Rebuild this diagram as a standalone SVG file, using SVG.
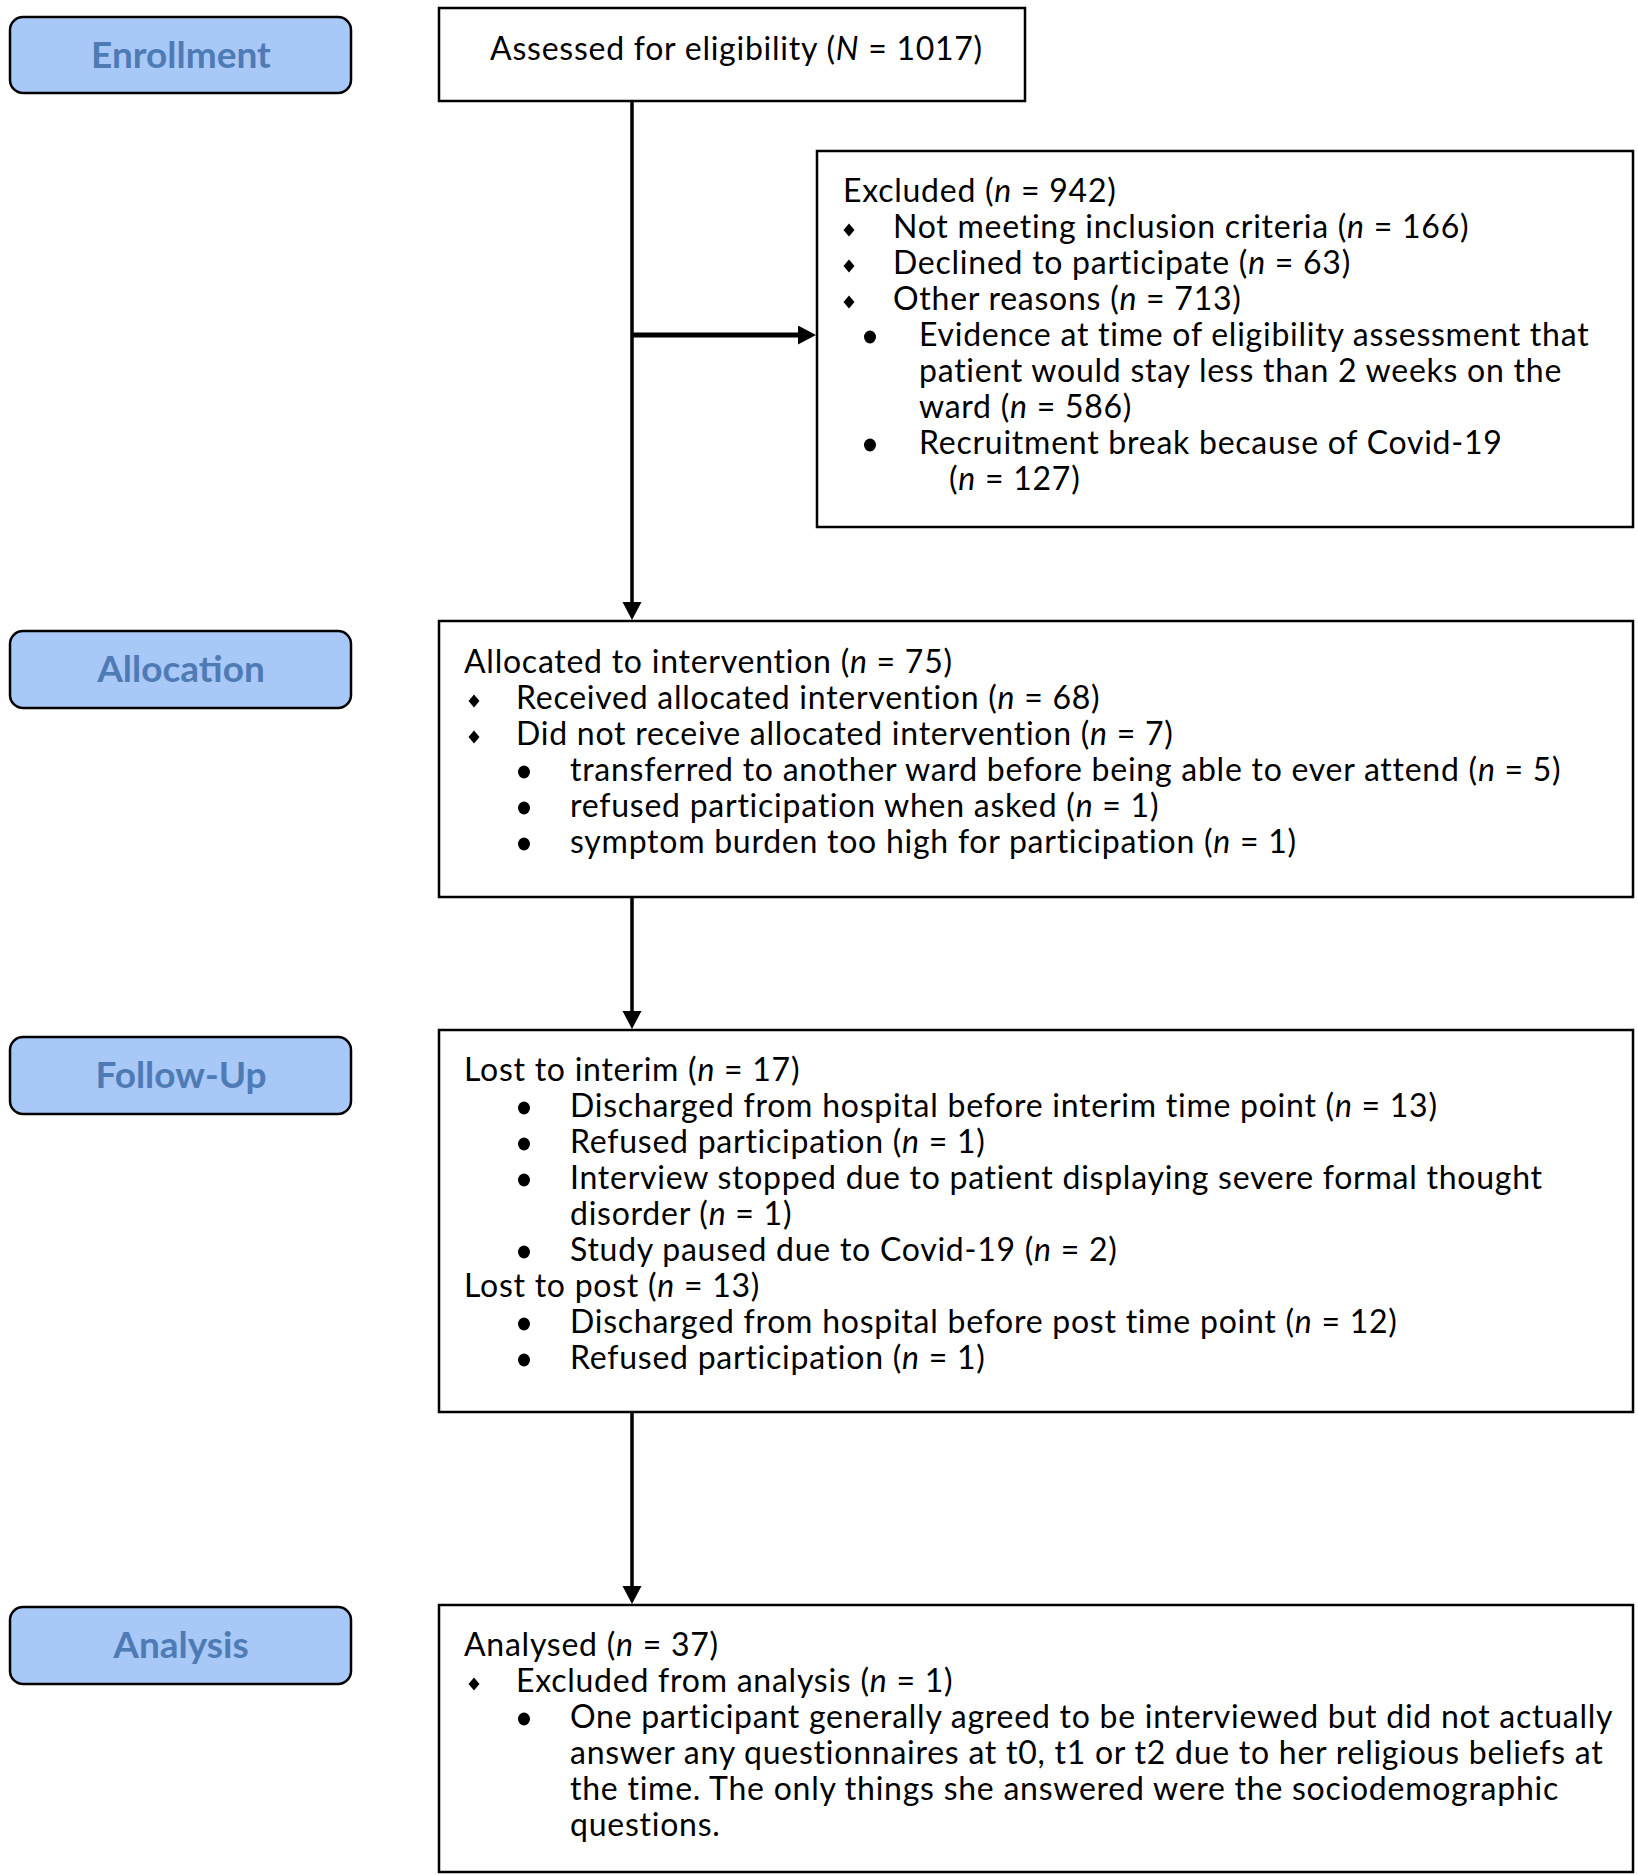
<svg xmlns="http://www.w3.org/2000/svg" width="1638" height="1875" viewBox="0 0 1638 1875">
<style>
.bg{fill:#ffffff}
.box{fill:#ffffff;stroke:#000;stroke-width:2.5}
.lbl{fill:#a8c8f8;stroke:#000;stroke-width:2.5}
.lt{font-family:Lato,"Liberation Sans",sans-serif;font-weight:bold;font-size:37px;fill:#4f7bb5;text-anchor:middle}
.t{font-family:Lato,"Liberation Sans",sans-serif;font-size:32px;letter-spacing:0.75px;fill:#000}
.i{font-style:italic}
.con{stroke:#000;stroke-width:3.5;fill:none}
.con.thick{stroke-width:5}
.d{fill:#000}
</style>
<defs>
<marker id="ah" markerUnits="userSpaceOnUse" markerWidth="20" markerHeight="20" refX="8" refY="9.5" orient="auto">
<path d="M0,0 L18,9.5 L0,19 z" fill="#000"/>
</marker>
<path id="dia" d="M0,-6.5 L5.5,0 L0,6.5 L-5.5,0 z"/>
</defs>
<rect class="bg" x="0" y="0" width="1638" height="1875"/>

<g id="connectors">
<line class="con" x1="632" y1="102" x2="632" y2="610" marker-end="url(#ah)"/>
<line class="con thick" x1="632" y1="335" x2="806" y2="335" marker-end="url(#ah)"/>
<line class="con" x1="632" y1="897" x2="632" y2="1019" marker-end="url(#ah)"/>
<line class="con" x1="632" y1="1412" x2="632" y2="1594" marker-end="url(#ah)"/>
</g>

<g id="label-enrollment">
<rect class="lbl" x="10" y="17" width="341" height="76" rx="13"/>
<text class="lt" x="181" y="68">Enrollment</text>
</g>
<g id="label-allocation">
<rect class="lbl" x="10" y="631" width="341" height="77" rx="13"/>
<text class="lt" x="181" y="682">Allocation</text>
</g>
<g id="label-followup">
<rect class="lbl" x="10" y="1037" width="341" height="77" rx="13"/>
<text class="lt" x="181" y="1088">Follow-Up</text>
</g>
<g id="label-analysis">
<rect class="lbl" x="10" y="1607" width="341" height="77" rx="13"/>
<text class="lt" x="181" y="1658">Analysis</text>
</g>

<g id="assessed">
<rect class="box" x="439" y="8" width="586" height="93"/>
<text class="t" x="490" y="60">Assessed for eligibility (<tspan class="i">N</tspan> = 1017)</text>
</g>

<g id="excluded">
<rect class="box" x="817" y="151" width="816" height="376"/>
<text class="t" x="843" y="202">Excluded (<tspan class="i">n</tspan> = 942)</text>
<use href="#dia" class="d" x="849" y="230"/>
<text class="t" x="893" y="238">Not meeting inclusion criteria (<tspan class="i">n</tspan> = 166)</text>
<use href="#dia" class="d" x="849" y="266"/>
<text class="t" x="893" y="274">Declined to participate (<tspan class="i">n</tspan> = 63)</text>
<use href="#dia" class="d" x="849" y="302"/>
<text class="t" x="893" y="310">Other reasons (<tspan class="i">n</tspan> = 713)</text>
<ellipse class="d" cx="870" cy="337" rx="6" ry="6.5"/>
<text class="t" x="919" y="346">Evidence at time of eligibility assessment that</text>
<text class="t" x="919" y="382">patient would stay less than 2 weeks on the</text>
<text class="t" x="919" y="418">ward (<tspan class="i">n</tspan> = 586)</text>
<ellipse class="d" cx="870" cy="445" rx="6" ry="6.5"/>
<text class="t" x="919" y="454">Recruitment break because of Covid-19</text>
<text class="t" x="949" y="490">(<tspan class="i">n</tspan> = 127)</text>
</g>

<g id="allocation">
<rect class="box" x="439" y="621" width="1194" height="276"/>
<text class="t" x="464" y="673">Allocated to intervention (<tspan class="i">n</tspan> = 75)</text>
<use href="#dia" class="d" x="474" y="701"/>
<text class="t" x="516" y="709">Received allocated intervention (<tspan class="i">n</tspan> = 68)</text>
<use href="#dia" class="d" x="474" y="737"/>
<text class="t" x="516" y="745">Did not receive allocated intervention (<tspan class="i">n</tspan> = 7)</text>
<ellipse class="d" cx="524" cy="772" rx="6" ry="6.5"/>
<text class="t" x="570" y="781">transferred to another ward before being able to ever attend (<tspan class="i">n</tspan> = 5)</text>
<ellipse class="d" cx="524" cy="808" rx="6" ry="6.5"/>
<text class="t" x="570" y="817">refused participation when asked (<tspan class="i">n</tspan> = 1)</text>
<ellipse class="d" cx="524" cy="844" rx="6" ry="6.5"/>
<text class="t" x="570" y="853">symptom burden too high for participation (<tspan class="i">n</tspan> = 1)</text>
</g>

<g id="followup">
<rect class="box" x="439" y="1030" width="1194" height="382"/>
<text class="t" x="464" y="1081">Lost to interim (<tspan class="i">n</tspan> = 17)</text>
<ellipse class="d" cx="524" cy="1108" rx="6" ry="6.5"/>
<text class="t" x="570" y="1117">Discharged from hospital before interim time point (<tspan class="i">n</tspan> = 13)</text>
<ellipse class="d" cx="524" cy="1144" rx="6" ry="6.5"/>
<text class="t" x="570" y="1153">Refused participation (<tspan class="i">n</tspan> = 1)</text>
<ellipse class="d" cx="524" cy="1180" rx="6" ry="6.5"/>
<text class="t" x="570" y="1189">Interview stopped due to patient displaying severe formal thought</text>
<text class="t" x="570" y="1225">disorder (<tspan class="i">n</tspan> = 1)</text>
<ellipse class="d" cx="524" cy="1252" rx="6" ry="6.5"/>
<text class="t" x="570" y="1261">Study paused due to Covid-19 (<tspan class="i">n</tspan> = 2)</text>
<text class="t" x="464" y="1297">Lost to post (<tspan class="i">n</tspan> = 13)</text>
<ellipse class="d" cx="524" cy="1324" rx="6" ry="6.5"/>
<text class="t" x="570" y="1333">Discharged from hospital before post time point (<tspan class="i">n</tspan> = 12)</text>
<ellipse class="d" cx="524" cy="1360" rx="6" ry="6.5"/>
<text class="t" x="570" y="1369">Refused participation (<tspan class="i">n</tspan> = 1)</text>
</g>

<g id="analysis">
<rect class="box" x="439" y="1605" width="1194" height="267"/>
<text class="t" x="464" y="1656">Analysed (<tspan class="i">n</tspan> = 37)</text>
<use href="#dia" class="d" x="474" y="1684"/>
<text class="t" x="516" y="1692">Excluded from analysis (<tspan class="i">n</tspan> = 1)</text>
<ellipse class="d" cx="524" cy="1719" rx="6" ry="6.5"/>
<text class="t" x="570" y="1728">One participant generally agreed to be interviewed but did not actually</text>
<text class="t" x="570" y="1764">answer any questionnaires at t0, t1 or t2 due to her religious beliefs at</text>
<text class="t" x="570" y="1800">the time. The only things she answered were the sociodemographic</text>
<text class="t" x="570" y="1836">questions.</text>
</g>
</svg>
